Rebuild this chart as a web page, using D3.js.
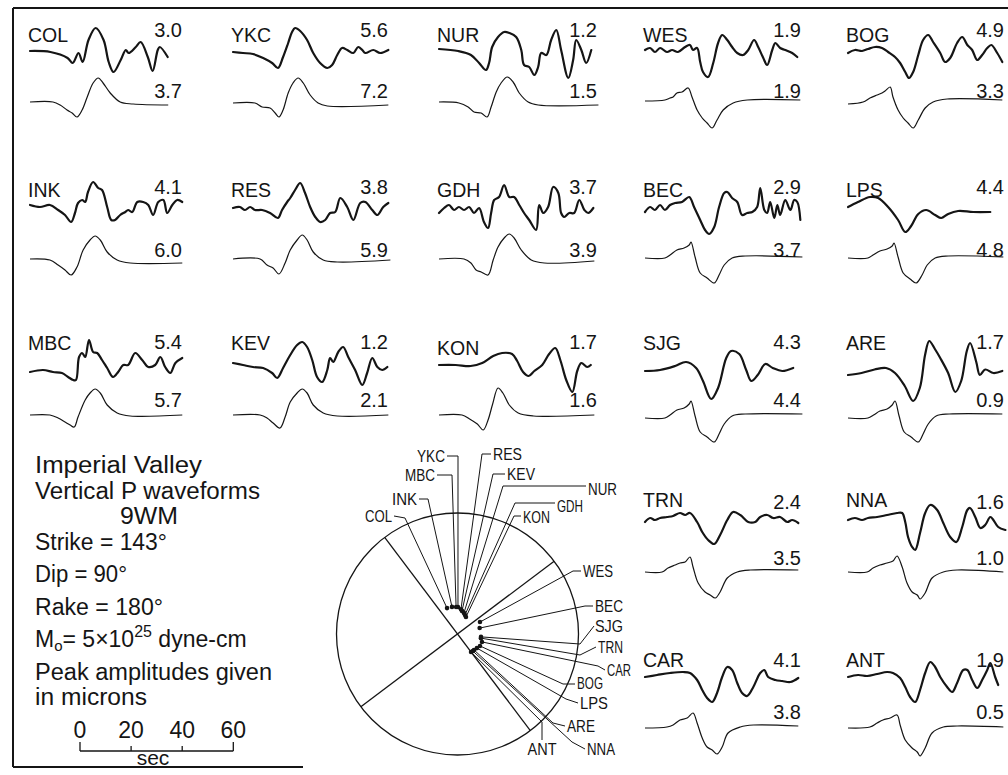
<!DOCTYPE html>
<html>
<head>
<meta charset="utf-8">
<script src="https://cdn.jsdelivr.net/npm/d3@7"></script>
<style>
  html, body { margin: 0; padding: 0; background: #fff; }
  svg { display: block; }
  text { font-family: "Liberation Sans", Arial, sans-serif; fill: #151515; }
</style>
</head>
<body>
<svg id="chart" width="1008" height="775"></svg>
<script>
// ---- Stations (panel order) ----
const stations = ["COL","YKC","NUR","WES","BOG","INK","RES","GDH","BEC","LPS",
                  "MBC","KEV","KON","SJG","ARE","TRN","NNA","CAR","ANT"];
const panelRow = [0,0,0,0,0, 1,1,1,1,1, 2,2,2,2,2, 3,3, 4,4];
const panelCol = [0,1,2,3,4, 0,1,2,3,4, 0,1,2,3,4, 3,4, 3,4];

// Peak amplitudes, microns (observed / synthetic)
const observedPeak  = [3.0,5.6,1.2,1.9,4.9, 4.1,3.8,3.7,2.9,4.4, 5.4,1.2,1.7,4.3,1.7, 2.4,1.6, 4.1,1.9];
const syntheticPeak = [3.7,7.2,1.5,1.9,3.3, 6.0,5.9,3.9,3.7,4.8, 5.7,2.1,1.6,4.4,0.9, 3.5,1.0, 3.8,0.5];

// Station azimuth (deg) and take-off angle (deg) on the lower focal hemisphere
const azimuth = [338,1,17,62,118, 348.5,8,21.5,75,126, 357,11,26.5,97,134, 100,138, 108,143];
const takeoff = [18.8,18.2,14.8,17.1,17.1, 18.6,16.8,13.7,15.4,16.1, 18.2,15.8,12.7,15.9,15.4, 16,15.4, 17.3,15.1];

// Source parameters
const strike = 143, dip = 90, rake = 180;

// Scale bar ticks, seconds
const scaleTicks = [0, 20, 40, 60];

// ---- Waveforms: [time (s), relative amplitude] ----
const obsCOL = [[0,1],[8,0],[14.7,-6],[16.7,-11],[19,-1],[20.6,-10],[22.9,12],[25.7,24],[28.8,12],[30.8,-10],[32.7,-20],[35.5,-8],[37.5,2],[38.6,-1],[41.4,5],[43.3,10],[46.1,-5],[48,-19],[50,2],[50.8,5],[53.9,-5]];
const synCOL = [[0,2],[9,2],[11.8,-1],[14.5,-6],[16.5,-9],[18.4,-13],[20.4,-6],[22.4,7],[24.7,21],[26.7,26],[28.6,21],[31.4,11],[35.3,2],[40.4,0],[54.1,-1]];
const obsYKC = [[0,0],[3.9,-1],[7.8,-2],[11.8,-6],[15.3,-11],[17.6,-16],[19.6,-5],[21.6,9],[23.1,20],[24.3,24],[26.3,21],[29,12],[31.4,-1],[34.1,-11],[36.9,-16],[38.8,-13],[40.8,-3],[42.7,4],[44.7,2],[47.1,-1],[49,5],[50.6,2],[51.8,-1],[54.9,2],[57.6,-1],[60.8,2]];
const synYKC = [[0,1],[8.6,1],[11.4,-3],[14.5,-4],[16.5,-9],[18,-13],[19.6,-6],[21.6,11],[23.5,21],[25.5,26],[27.5,21],[30.2,9],[33.3,1],[36.9,-2],[60.8,-1]];
const obsNUR = [[0,3],[7.5,1],[12.5,-3],[15.7,-11],[18.4,-18],[19.6,-11],[20.8,5],[23.1,15],[25.5,20],[27.5,19],[30.2,15],[32.2,2],[33.3,-13],[35.3,-15],[37.3,-23],[38.8,-15],[40,-1],[42,-3],[43.9,12],[45.9,22],[47.8,2],[50.6,-26],[52.5,-8],[53.7,12],[55.7,2],[57.6,-11],[59.6,2]];
const synNUR = [[0,2],[7.8,1],[11.4,-3],[13.7,-8],[16.5,-9],[18.8,-13],[20.4,-3],[22.4,12],[24.3,21],[26.7,27],[29,22],[31.4,11],[34.9,2],[38.8,-1],[62.4,-1]];
const obsWES = [[0,2],[2,4],[3.9,0],[5.9,4],[8.6,0],[10.6,2],[12.9,0],[15.7,5],[17.6,7],[18.8,2],[20.4,4],[21.6,-10],[22.7,-20],[24.7,-25],[26.7,-11],[28.6,9],[30.2,17],[32.2,12],[34.1,5],[36.1,-1],[38.4,-3],[40.4,2],[42.7,12],[44.3,5],[46.3,-6],[47.8,-13],[49.8,2],[51,9],[52.9,4],[54.9,2],[57.6,-1],[59.6,-5]];
const synWES = [[0,3],[7.8,4],[9.8,6],[11,7],[12.5,11],[14.5,12],[16.9,16],[18.4,7],[20.4,-6],[22.4,-14],[24.3,-19],[26.3,-24],[28.2,-16],[30.6,-6],[34.5,1],[40,4],[60.8,4]];
const obsBOG = [[0,-1],[2.7,2],[5.5,1],[7.8,3],[10.6,5],[13.3,4],[15.7,0],[18.4,-5],[20.4,-11],[22.4,-20],[23.9,-26],[25.5,-20],[27.5,-3],[29.4,12],[31.4,17],[33.3,10],[36.1,-1],[38,-10],[40,-6],[42.7,9],[44.7,15],[46.7,7],[48.6,2],[50.6,-8],[52.5,-3],[54.5,4],[56.1,7],[58.4,-1],[60.4,-10]];
const synBOG = [[0,0],[5.9,2],[8.6,6],[11.4,9],[13.3,11],[14.5,13],[16.5,17],[17.6,7],[19.6,-6],[21.6,-14],[23.5,-19],[25.5,-24],[27.5,-16],[30.2,-4],[33.3,2],[38.8,5],[60.4,4]];
const obsINK = [[0,2],[3.9,0],[7.8,2],[11,-3],[13.7,-8],[16.1,-15],[17.6,-6],[18.8,4],[20.4,7],[21.6,5],[22.7,15],[24.7,25],[26.7,19],[28.2,17],[30.2,0],[31.8,-13],[33.3,-13],[35.3,-8],[37.3,-5],[38.4,-3],[40,-5],[42,5],[44.3,5],[46.3,2],[48.2,-8],[50.2,5],[52.2,7],[53.7,-6],[55.7,2],[57.6,7],[59.6,5]];
const synINK = [[0,0],[7.8,-1],[11,-6],[13.7,-11],[16.1,-16],[18.4,-8],[20.8,9],[23.5,19],[25.5,23],[27.5,19],[30.2,7],[34.1,-1],[39.2,-4],[59.6,-4]];
const obsRES = [[0,-1],[2.7,0],[4.7,-3],[6.7,0],[8.6,-3],[11.4,-3],[14.5,-6],[17.6,-11],[19.2,-3],[21.2,5],[22.4,9],[24.3,17],[26.3,24],[28.2,14],[30.2,0],[32.2,-10],[34.1,-15],[36.1,-13],[38,-6],[40,-5],[42,9],[44.7,0],[47.1,-13],[49.8,4],[51.8,5],[54.5,-3],[56.5,-8],[58.8,0],[60.8,4]];
const synRES = [[0,0],[10.6,0],[13.3,-6],[15.7,-9],[18,-15],[20.4,-4],[22.4,9],[25.1,19],[27.1,24],[29,19],[31.4,7],[35.3,-1],[40.8,-3],[61.6,-1]];
const obsGDH = [[0,-6],[2,-1],[3.9,2],[5.9,-3],[7.8,0],[9.8,-3],[11.8,0],[13.7,-6],[15.7,-1],[17.6,-15],[19.2,-21],[20.4,-6],[21.6,7],[23.5,10],[25.5,22],[27.5,10],[29.4,10],[31.4,2],[33.3,-6],[35.3,-13],[38,-23],[39.2,2],[40.8,-6],[42.7,0],[44.7,20],[46.7,14],[47.8,-6],[49,-10],[51,-6],[52.9,-6],[54.9,7],[56.9,-3],[58.4,-6],[60.4,-1]];
const synGDH = [[0,0],[9.8,0],[12.5,-4],[14.5,-11],[16.5,-13],[19.2,-16],[21.2,-1],[23.1,12],[25.5,21],[27.5,25],[29.4,21],[32.2,9],[36.1,-1],[41.2,-4],[60.8,-2]];
const obsBEC = [[0,-5],[2,0],[3.9,-3],[5.9,2],[7.8,-3],[9.8,2],[11.8,4],[14.5,5],[17.3,10],[19.2,0],[21.6,-13],[23.5,-23],[25.1,-27],[27.1,-20],[29,0],[31,14],[32.2,15],[34.1,9],[36.1,5],[38,-8],[40,-6],[42,-5],[43.9,0],[45.1,19],[46.7,-3],[47.8,-6],[49,5],[50.6,-11],[51.8,2],[52.9,-8],[54.9,7],[56.9,-3],[58.4,7],[59.6,5],[60.8,-13]];
const synBEC = [[0,1],[7.8,1],[9.8,4],[12.5,9],[15.3,11],[17.3,14],[18,17],[19.6,2],[21.6,-14],[24.3,-19],[27.1,-24],[29,-16],[31,-6],[34.1,1],[39.2,3],[61.6,2]];
const obsLPS = [[0,0],[3.9,5],[8.6,10],[11.8,9],[15.7,0],[19.6,-13],[22.4,-25],[24.7,-19],[27.5,-7],[30.6,-3],[34.1,-8],[36.5,-11],[39.2,-7],[43.1,-4],[49,-5],[55.7,-5]];
const synLPS = [[0,1],[7.8,1],[9.8,4],[12.5,8],[15.3,10],[17.3,13],[18,16],[19.6,2],[21.6,-14],[24.3,-20],[26.7,-24],[29,-16],[31,-6],[34.1,1],[39.2,3],[60.8,2]];
const obsMBC = [[0,-12],[5.1,-10],[9,-12],[12.5,-13],[14.9,-17],[16.9,-20],[18,-20],[19.2,3],[20.4,7],[21.6,3],[23.1,20],[24.7,8],[26.3,7],[28.2,0],[30.2,-8],[32.5,-17],[34.5,-12],[36.5,-5],[38.4,-5],[41.2,7],[43.9,0],[46.3,-7],[49,-5],[51,3],[52.9,-7],[54.9,-13],[56.9,-3],[59.6,2]];
const synMBC = [[0,-3],[7.8,-3],[11,-6],[13.7,-10],[15.7,-13],[17.3,-15],[18.8,-5],[21.6,12],[23.5,19],[25.5,23],[27.5,19],[30.2,7],[34.1,-1],[39.2,-4],[59.6,-3]];
const obsKEV = [[0,-3],[3.9,-5],[7.8,-7],[11.8,-8],[15.3,-13],[17.3,-18],[19.6,-8],[22.4,5],[25.1,15],[27.1,18],[29,13],[31,0],[32.9,-17],[34.9,-22],[36.9,-10],[38,2],[39.2,-2],[41.2,8],[43.1,13],[45.1,3],[47.8,-10],[50.6,-25],[52.5,-13],[54.5,2],[56.5,-7],[58.4,-10],[60.4,-7]];
const synKEV = [[0,-3],[10.6,-3],[13.3,-6],[15.7,-11],[18.4,-16],[20.4,-5],[22.4,10],[25.1,19],[27.1,23],[29,19],[31.4,7],[35.3,-1],[40.8,-4],[60.8,-3]];
const obsKON = [[0,-5],[6.5,-5],[12.4,-6],[16.9,-3],[21.2,4],[24.7,7],[28.6,6],[30.6,-1],[32.9,-12],[35.1,-16],[37.3,-11],[40.4,-5],[43.1,6],[45.5,12],[47.6,-1],[49.8,-20],[52.2,-32],[54.1,-11],[55.7,-3],[58,-7],[59.4,-5]];
const synKON = [[0,-3],[9,-3],[12,-7],[15,-12],[17.3,-18],[19.2,-8],[21,8],[23.1,24],[25,19],[27.5,7],[31,-1],[37,-4],[60.8,-3]];
const obsSJG = [[0,-11],[5.9,-10],[11.8,-6],[16.1,-2],[20,-8],[22.7,-21],[25.9,-39],[28.6,-28],[31.8,2],[33.7,9],[36.9,6],[39.6,-10],[41.6,-21],[44.1,-15],[47.1,-4],[50,-8],[53.7,-11],[58,-8]];
const synSJG = [[0,-6],[7.8,-6],[9.8,-3],[12.5,2],[15.3,4],[17.3,8],[18,11],[19.6,-4],[21.6,-20],[24.3,-25],[27.1,-30],[29,-22],[31,-12],[34.1,-4],[39.2,-2],[61.6,-2]];
const obsARE = [[0,-15],[5.3,-13],[10.4,-9.5],[14.9,-8],[18.4,-13],[22.2,-26],[25.5,-41],[28.1,-28],[30.2,5.5],[31.8,19],[34,11],[36.1,2],[39.2,-13],[42,-32],[44.3,-21],[46.5,9],[47.8,17],[50.2,-2],[51.6,-15],[53.7,-9.5],[56.9,-13],[60.4,-11]];
const synARE = [[0,-6],[7.8,-6],[10,-3],[12.5,1],[15.3,3],[17.3,7],[18.4,11],[20,-4],[22,-20],[24.7,-25],[27.5,-30],[29.4,-22],[31.4,-12],[34.5,-4],[39.6,-2],[60.4,-2]];
const obsTRN = [[0,-5],[2,-1],[3.9,-3],[5.9,-1],[8.6,0],[11,1],[13.7,4],[15.7,2],[17.6,4],[20.4,-5],[22.4,-15],[24.7,-23],[27.1,-27],[29.4,-18],[32.2,-3],[34.5,5],[37.3,2],[40.4,-5],[43.1,-5],[45.1,0],[47.8,2],[50.2,-1],[52.9,0],[55.7,-5],[57.6,-3],[60,-6]];
const synTRN = [[0,-3],[6.7,-3],[9,1],[11.8,4],[13.7,6],[15.7,7],[17.6,12],[18.8,2],[20.8,-14],[23.5,-23],[25.5,-26],[27.5,-29],[29.4,-23],[32.2,-9],[36.1,-3],[41.2,-1],[60,-1]];
const obsNNA = [[0,-3],[2.7,-1],[5.5,-3],[7.8,-1],[11.4,0],[15.3,2],[19.2,4],[21.2,4],[22.4,-5],[23.5,-20],[25.1,-30],[26.3,-33],[28.2,-16],[30.2,4],[32.2,12],[34.9,7],[37.3,-6],[40,-20],[42.4,-25],[44.7,-10],[46.7,7],[47.8,9],[49.8,0],[51.8,-11],[53.7,-8],[55.7,0],[56.9,-3],[58.8,-10],[61.6,-13]];
const synNNA = [[0,-3],[7.5,-3],[9.8,1],[12.5,4],[15.3,6],[17.6,8],[19.2,13],[21.2,2],[23.1,-14],[25.1,-23],[27.1,-26],[28.2,-30],[30.2,-24],[32.9,-9],[37.3,-3],[42.7,-1],[60.8,-3]];
const obsCAR = [[0,0],[4.7,2],[9.8,4],[14.9,5],[17.6,4],[20.4,-3],[22.4,-13],[24.3,-21],[26.3,-25],[28.2,-16],[30.2,0],[32.2,10],[34.1,7],[36.1,-6],[38,-16],[40,-19],[42.4,-10],[45.1,4],[46.7,7],[48.2,0],[51,-3],[53.7,-4],[56.9,-5],[60,-1]];
const synCAR = [[0,1],[8.6,2],[11,4],[13.7,9],[16.5,11],[18.8,16],[20.4,6],[22.4,-9],[24.3,-18],[26.3,-21],[28.2,-25],[30.2,-18],[32.5,-4],[37.3,2],[42.4,4],[60,3]];
const obsANT = [[0,0],[3.9,2],[7.5,1],[11.4,3],[15.3,5],[17.6,4],[20.4,-1],[22.4,-10],[24.3,-20],[26.3,-25],[28.2,-13],[30.2,4],[32.2,15],[34.1,10],[36.1,0],[38.8,-10],[40.8,-15],[42.7,-6],[45.1,7],[46.7,7],[48.6,-3],[50.6,-11],[52.5,-3],[54.5,7],[55.7,14],[57.6,0],[58.8,-8]];
const synANT = [[0,1],[8.6,2],[11.4,6],[13.7,9],[16.5,11],[19.2,14],[20.4,4],[22.4,-11],[25.1,-19],[27.1,-23],[28.2,-27],[30.2,-19],[32.9,-4],[37.3,2],[42.7,3],[60.8,2]];

const observed = {COL:obsCOL,YKC:obsYKC,NUR:obsNUR,WES:obsWES,BOG:obsBOG,INK:obsINK,RES:obsRES,GDH:obsGDH,BEC:obsBEC,LPS:obsLPS,
                  MBC:obsMBC,KEV:obsKEV,KON:obsKON,SJG:obsSJG,ARE:obsARE,TRN:obsTRN,NNA:obsNNA,CAR:obsCAR,ANT:obsANT};
const synthetic = {COL:synCOL,YKC:synYKC,NUR:synNUR,WES:synWES,BOG:synBOG,INK:synINK,RES:synRES,GDH:synGDH,BEC:synBEC,LPS:synLPS,
                  MBC:synMBC,KEV:synKEV,KON:synKON,SJG:synSJG,ARE:synARE,TRN:synTRN,NNA:synNNA,CAR:synCAR,ANT:synANT};

// ---- Layout ----
const ink = "#151515";
const secPx = 153.3 / 60;                 // plot seconds -> pixels
const colX     = [30, 233, 439, 645, 848];
const colRight = [182, 388, 597, 801, 1004];
const rowY     = [42, 197, 350, 507, 667];
const obsNumDy = [-5, -3, -1, 2, 0];
const synNumDy = [56, 60, 57, 58, 52];
const labelNudge = {KON: 5};

const svg = d3.select("#chart");
const fmt = d3.format(".1f");

// Frame
const frame = svg.append("g").attr("stroke", ink).attr("stroke-width", 2).attr("fill", "none");
frame.append("path").attr("d", "M13,8 L1008,8");
frame.append("path").attr("d", "M13,8 L13,767");
frame.append("path").attr("d", "M13,767 L303,767");

// ---- Waveform panels ----
stations.forEach((code, i) => {
  const r = panelRow[i], c = panelCol[i];
  const x = d3.scaleLinear().domain([0, 60]).range([colX[c], colX[c] + 60 * secPx]);
  const yObs = d3.scaleLinear().domain([-30, 30]).range([rowY[r] + 40, rowY[r] - 20]);
  const ySyn = d3.scaleLinear().domain([-30, 30]).range([rowY[r] + 92, rowY[r] + 32]);
  const g = svg.append("g").attr("class", "panel");

  g.append("path")
    .datum(observed[code])
    .attr("fill", "none").attr("stroke", ink).attr("stroke-width", 2.2)
    .attr("stroke-linejoin", "round").attr("stroke-linecap", "round")
    .attr("d", d3.line().x(d => x(d[0])).y(d => yObs(d[1])).curve(d3.curveCatmullRom.alpha(0.5)));

  g.append("path")
    .datum(synthetic[code])
    .attr("fill", "none").attr("stroke", ink).attr("stroke-width", 1.2)
    .attr("stroke-linejoin", "round")
    .attr("d", d3.line().x(d => x(d[0])).y(d => ySyn(d[1])).curve(d3.curveCatmullRom.alpha(0.5)));

  g.append("text").attr("x", colX[c] - 2).attr("y", rowY[r] + (labelNudge[code] || 0))
    .attr("font-size", 19.5).text(code);
  g.append("text").attr("x", colRight[c]).attr("y", rowY[r] + obsNumDy[r])
    .attr("text-anchor", "end").attr("font-size", 20).text(fmt(observedPeak[i]));
  g.append("text").attr("x", colRight[c]).attr("y", rowY[r] + synNumDy[r])
    .attr("text-anchor", "end").attr("font-size", 20).text(fmt(syntheticPeak[i]));
});

// ---- Focal sphere (lower hemisphere, equal area) ----
const cx = 457.5, cy = 634, R = 121;
const sph = svg.append("g");
sph.append("circle").attr("cx", cx).attr("cy", cy).attr("r", R)
  .attr("fill", "none").attr("stroke", ink).attr("stroke-width", 1.3);

// vertical nodal plane and its auxiliary plane project as diameters
const planeStrikes = [strike, strike - 90];
sph.selectAll("line.plane").data(planeStrikes).join("line").attr("class", "plane")
  .attr("x1", s => cx + R * Math.sin(s * Math.PI / 180))
  .attr("y1", s => cy - R * Math.cos(s * Math.PI / 180))
  .attr("x2", s => cx - R * Math.sin(s * Math.PI / 180))
  .attr("y2", s => cy + R * Math.cos(s * Math.PI / 180))
  .attr("stroke", ink).attr("stroke-width", 1.3);

function project(az, inc) {
  const rr = R * Math.SQRT2 * Math.sin(inc * Math.PI / 360);
  return [cx + rr * Math.sin(az * Math.PI / 180), cy - rr * Math.cos(az * Math.PI / 180)];
}

// label placement around the sphere
const leader = {
  YKC: {tx:445, ty:462, anchor:"end",    w:28, via:[[447,456],[458,456]]},
  MBC: {tx:435, ty:481, anchor:"end",    w:30, via:[[437,475],[452,475]]},
  INK: {tx:417, ty:505, anchor:"end",    w:25, via:[[419,499],[428,499]]},
  COL: {tx:392, ty:522, anchor:"end",    w:27, via:[[394,516],[405,518]]},
  RES: {tx:493, ty:460, anchor:"start",  w:29, via:[[491,454],[482,454]]},
  KEV: {tx:507, ty:480, anchor:"start",  w:28, via:[[505,474],[493,474]]},
  NUR: {tx:588, ty:495, anchor:"start",  w:29, via:[[586,486],[503,486]]},
  GDH: {tx:557, ty:512, anchor:"start",  w:26, via:[[555,503],[515,503]]},
  KON: {tx:523, ty:523, anchor:"start",  w:27, via:[[521,516],[514,516]]},
  WES: {tx:583, ty:577, anchor:"start",  w:30, via:[[581,571],[573,571]]},
  BEC: {tx:595, ty:612, anchor:"start",  w:28, via:[[593,606],[585,606]]},
  SJG: {tx:595, ty:632, anchor:"start",  w:28, via:[[594,626],[580,644]]},
  TRN: {tx:598, ty:653, anchor:"start",  w:25, via:[[596,647],[580,655]]},
  CAR: {tx:607, ty:676, anchor:"start",  w:24, via:[[605,670],[598,666]]},
  BOG: {tx:577, ty:689, anchor:"start",  w:26, via:[[575,684],[563,684]]},
  LPS: {tx:580, ty:709, anchor:"start",  w:28, via:[[578,703],[566,699]]},
  ARE: {tx:567, ty:732, anchor:"start",  w:28, via:[[565,726],[553,723]]},
  ANT: {tx:542, ty:755, anchor:"middle", w:29, via:[[542,740],[542,722]]},
  NNA: {tx:587, ty:755, anchor:"start",  w:28, via:[[585,749],[572,742]]}
};

stations.forEach((code, i) => {
  const p = project(azimuth[i], takeoff[i]);
  const L = leader[code];
  sph.append("path")
    .attr("d", d3.line()([...L.via, p]))
    .attr("fill", "none").attr("stroke", ink).attr("stroke-width", 1);
  sph.append("circle").attr("cx", p[0]).attr("cy", p[1]).attr("r", 2.3).attr("fill", ink);
  sph.append("text").attr("x", L.tx).attr("y", L.ty)
    .attr("text-anchor", L.anchor).attr("font-size", 17)
    .attr("textLength", L.w).attr("lengthAdjust", "spacingAndGlyphs")
    .text(code);
});

// ---- Caption block ----
const cap = svg.append("g").attr("font-size", 23);
const capLines = [
  {t:"Imperial Valley",        x:35,  y:473, w:167},
  {t:"Vertical P waveforms",   x:35,  y:499, w:225},
  {t:"9WM",                    x:120, y:524, w:58},
  {t:"Strike = 143°",          x:35,  y:550, w:132},
  {t:"Dip = 90°",              x:35,  y:582, w:92},
  {t:"Rake = 180°",            x:35,  y:615, w:128},
  {t:"Peak amplitudes given",  x:35,  y:680, w:237},
  {t:"in microns",             x:35,  y:705, w:112}
];
capLines.forEach(l => cap.append("text").attr("x", l.x).attr("y", l.y)
  .attr("textLength", l.w).attr("lengthAdjust", "spacingAndGlyphs").text(l.t));

// seismic moment line, one text element with sub/superscripts
const mo = cap.append("text").attr("x", 35).attr("y", 647);
mo.append("tspan").text("M");
mo.append("tspan").attr("font-size", 15).attr("dy", 4).text("o");
mo.append("tspan").attr("dy", -4).text("= 5×10");
mo.append("tspan").attr("font-size", 16).attr("dy", -10).text("25");
mo.append("tspan").attr("dy", 10).text(" dyne-cm");

// ---- Time scale bar ----
const xs = d3.scaleLinear().domain([0, 60]).range([80, 80 + 60 * secPx]);
const bar = svg.append("g");
bar.append("line").attr("x1", xs(0)).attr("x2", xs(60)).attr("y1", 751).attr("y2", 751)
  .attr("stroke", ink).attr("stroke-width", 1.3);
bar.selectAll("line.tick").data(scaleTicks).join("line").attr("class", "tick")
  .attr("x1", d => xs(d)).attr("x2", d => xs(d))
  .attr("y1", d => (d === 0 || d === 60) ? 742 : 746).attr("y2", 751)
  .attr("stroke", ink).attr("stroke-width", 1.3);
bar.selectAll("text.tl").data(scaleTicks).join("text").attr("class", "tl")
  .attr("x", d => xs(d)).attr("y", 738).attr("text-anchor", "middle").attr("font-size", 23)
  .text(d => d);
bar.append("text").attr("x", 153).attr("y", 765).attr("text-anchor", "middle")
  .attr("font-size", 21).text("sec");
</script>
</body>
</html>
